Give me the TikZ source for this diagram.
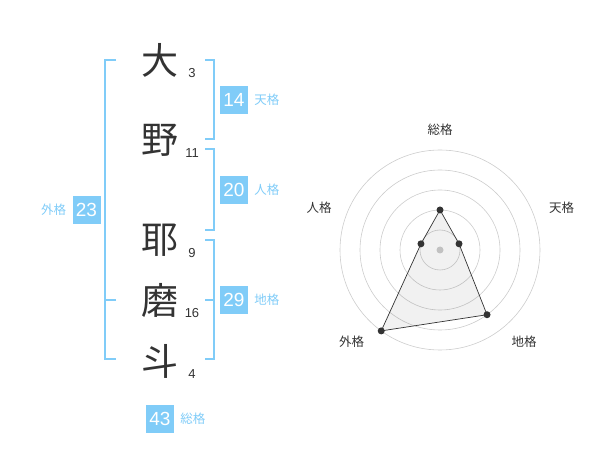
\documentclass[tikz,border=0pt]{standalone}
\usepackage{fontspec}
\setmainfont{Liberation Sans}
\newfontfamily\jp{Noto Sans CJK JP}
\usepackage{tikz}
\usetikzlibrary{positioning}
\definecolor{kaku}{HTML}{80CCF8}
\definecolor{txt}{HTML}{333333}
\definecolor{ring}{HTML}{CCCCCC}

\begin{document}
\begin{tikzpicture}[x=1pt, y=-1pt,
    kanji/.style={font=\jp\fontsize{37}{37}\selectfont, text=txt, inner sep=0},
    strokes/.style={font=\fontsize{13}{13}\selectfont, text=txt, inner sep=0},
    scorebox/.style={fill=kaku, text=white, minimum size=28pt, inner sep=0,
      font=\fontsize{19}{19}\selectfont},
    kakulabel/.style={font=\jp\fontsize{12.5}{12.5}\selectfont, text=kaku, inner sep=0},
    bracket/.style={draw=kaku, line width=1.6pt},
    axislabel/.style={font=\jp\fontsize{12.5}{12.5}\selectfont, text=txt, inner sep=0},
    dot/.style={circle, fill=txt, inner sep=0, minimum size=7pt}]
  \useasboundingbox (0, 0) rectangle (600, 470);
  % name and strokes
  \foreach \name/\ch/\y/\n in {dai/大/60/3, no/野/140/11, ya/耶/240/9, ma/磨/300/16, to/斗/361/4} {
    \node[kanji] (\name) at (160, \y) {\ch};
    \node[strokes] (\name-n) at (192, \y+13) {\n};
  }
  % brackets
  \draw[bracket] (205, 60) -- (214, 60) -- (214, 139) -- (205, 139);
  \draw[bracket] (205, 149) -- (214, 149) -- (214, 230) -- (205, 230);
  \draw[bracket] (205, 240) -- (214, 240) -- (214, 359) -- (205, 359);
  \draw[bracket] (205, 300) -- (214, 300);
  \draw[bracket] (116, 60) -- (105, 60) -- (105, 359) -- (116, 359);
  \draw[bracket] (116, 300) -- (105, 300);
  % scores
  \foreach \name/\x/\y/\v in {ten/234/100/14, jin/234/190/20, chi/234/300/29, gai/86.5/210/23, sou/160/419/43} {
    \node[scorebox] (\name) at (\x, \y) {\v};
  }
  \node[kakulabel, right=6pt of ten] (ten-l) {天格};
  \node[kakulabel, right=6pt of jin] (jin-l) {人格};
  \node[kakulabel, right=6pt of chi] (chi-l) {地格};
  \node[kakulabel, left=6pt of gai] (gai-l) {外格};
  \node[kakulabel, right=6pt of sou] (sou-l) {総格};
  % radar chart
  \begin{scope}[shift={(440, 250)}]
    \foreach \r in {20, 40, 60, 80, 100} {
      \draw[ring, line width=0.6pt] (0, 0) circle (\r);
    }
    \fill[ring] (0, 0) circle (3.5);
    \coordinate (p-sou) at (-90:40);
    \coordinate (p-ten) at (-18:20);
    \coordinate (p-chi) at (54:80);
    \coordinate (p-gai) at (126:100);
    \coordinate (p-jin) at (198:20);
    \filldraw[fill=txt, fill opacity=0.07, draw=txt, line width=0.7pt]
      (p-sou) -- (p-ten) -- (p-chi) -- (p-gai) -- (p-jin) -- cycle;
    \foreach \p in {sou, ten, chi, gai, jin} {
      \node[dot] at (p-\p) {};
    }
    \node[axislabel] (a-sou) at (0, -120) {総格};
    \node[axislabel] (a-ten) at (121.7, -42) {天格};
    \node[axislabel] (a-jin) at (-121, -42) {人格};
    \node[axislabel] (a-gai) at (-88.3, 91.7) {外格};
    \node[axislabel] (a-chi) at (84, 91.7) {地格};
  \end{scope}
\end{tikzpicture}
\end{document}
